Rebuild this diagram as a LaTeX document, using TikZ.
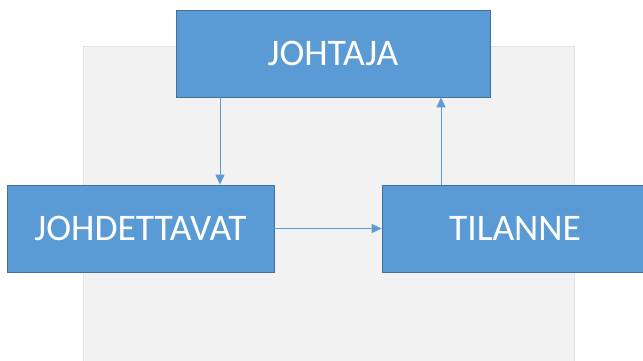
\documentclass[tikz,border=0pt]{standalone}
\usepackage{fontspec}
\setmainfont{Carlito}
\usetikzlibrary{arrows.meta}
\definecolor{boxblue}{HTML}{5B9BD5}
\definecolor{boxedge}{HTML}{41719C}
\definecolor{panel}{HTML}{F2F2F2}
\definecolor{paneledge}{HTML}{E3E3E3}
\tikzset{
  bluebox/.style={draw=boxedge, line width=0.8pt, fill=boxblue, text=white, font=\fontsize{37.5}{42}\selectfont, inner sep=0pt},
  conn/.style={draw=boxblue, line width=1pt, -{Triangle[length=10pt,width=9pt]}}
}
\begin{document}
\begin{tikzpicture}[x=1pt,y=-1pt]
\useasboundingbox (0,0) rectangle (643,360);
\begin{scope}
\clip (0,0) rectangle (643,360);
\draw[fill=panel, draw=paneledge, line width=1pt] (83,46) rectangle (574,370);
\node[bluebox, minimum width=314pt, minimum height=87pt] (lead) at (333,53.5) {JOHTAJA};
\node[bluebox, minimum width=267pt, minimum height=87pt] (fol) at (140.5,228.5) {JOHDETTAVAT};
\node[bluebox, minimum width=266pt, minimum height=87pt] (sit) at (515,228.5) {TILANNE};
\coordinate (a1) at (220,97);
\coordinate (a2) at (441,185);
\draw[conn] (lead.south -| a1) -- (fol.north -| a1);
\draw[conn] (fol.east) -- (sit.west);
\draw[conn] (sit.north -| a2) -- (lead.south -| a2);
\end{scope}
\end{tikzpicture}
\end{document}
